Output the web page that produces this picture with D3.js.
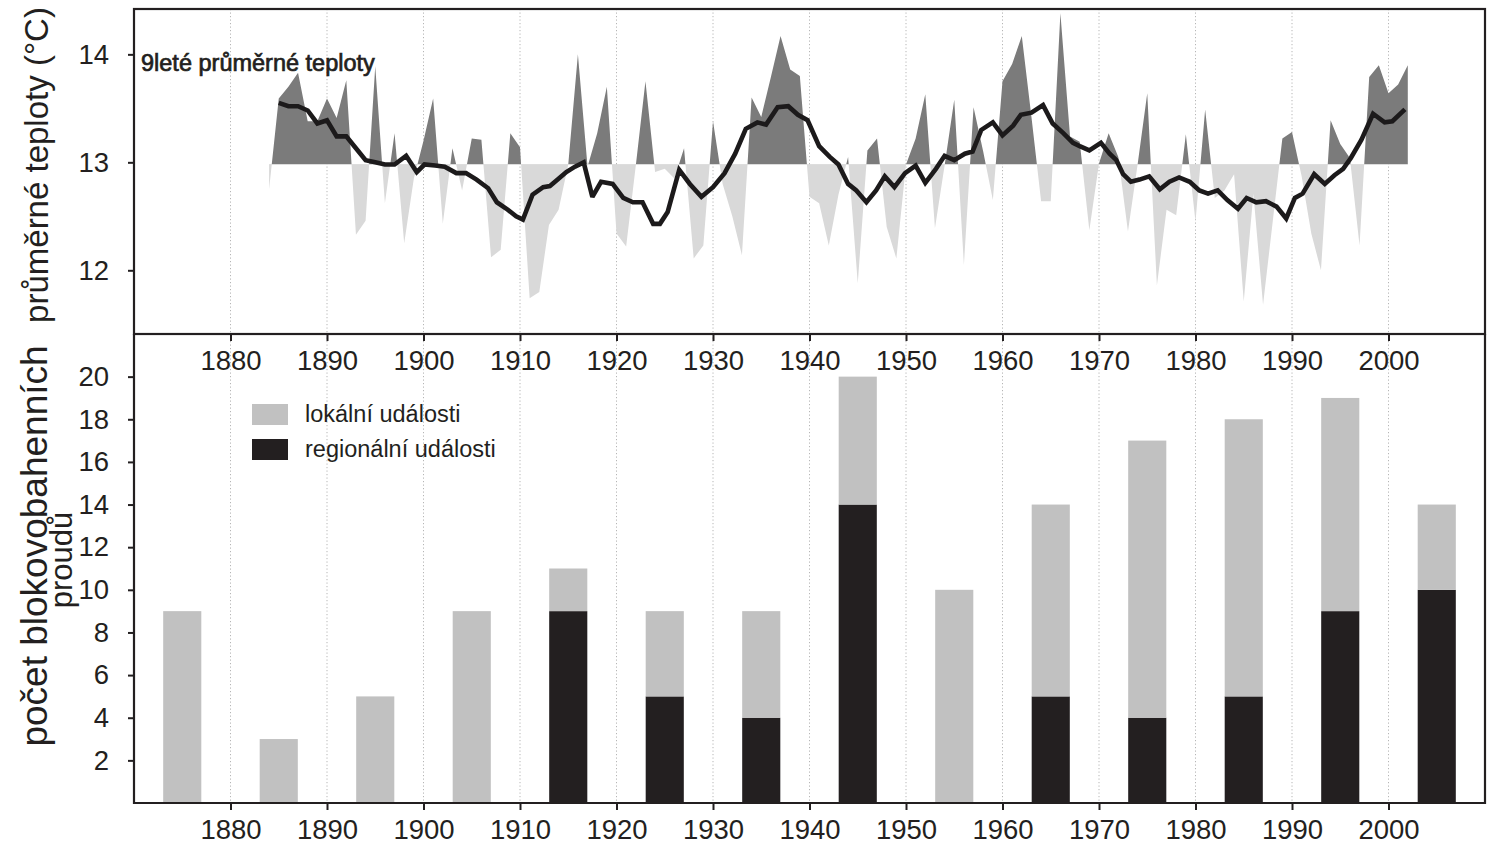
<!DOCTYPE html>
<html><head><meta charset="utf-8">
<script src="https://cdn.jsdelivr.net/npm/d3@7"></script>
<style>
body{margin:0;background:#fff}
svg text{font-family:"Liberation Sans",Arial,Helvetica,sans-serif;fill:#231f20}
</style>
</head><body>
<svg id="chart" width="1488" height="848"></svg>
<script>
// ---------------- data ----------------
const tempYears = d3.range(1884, 2003);
const tempValues = [
  12.75, 13.59, 13.70, 13.83, 13.38, 13.38, 13.59, 13.41, 13.76, 12.33,
  12.46, 13.89, 12.62, 13.27, 12.25, 12.85, 13.20, 13.59, 12.43, 13.13,
  12.74, 13.22, 13.21, 12.12, 12.19, 13.27, 13.14, 11.74, 11.80, 12.42,
  12.56, 12.98, 14.00, 12.96, 13.27, 13.70, 12.34, 12.22, 12.97, 13.75,
  12.91, 12.94, 12.85, 13.13, 12.11, 12.23, 13.38, 12.80, 12.50, 12.14,
  13.60, 13.42, 13.79, 14.17, 13.86, 13.80, 12.68, 12.62, 12.23, 12.70,
  13.05, 11.88, 13.11, 13.22, 12.40, 12.11, 12.98, 13.22, 13.63, 12.39,
  12.97, 13.58, 12.05, 13.51, 13.10, 12.65, 13.75, 13.91, 14.17, 13.42,
  12.64, 12.64, 14.38, 13.24, 13.19, 12.37, 12.99, 13.27, 13.05, 12.36,
  12.98, 13.64, 11.86, 12.56, 12.51, 13.26, 12.45, 13.49, 12.67, 12.74,
  12.89, 11.71, 12.71, 11.68, 12.45, 13.22, 13.28, 12.87, 12.34, 12.00,
  13.39, 13.17, 13.04, 12.23, 13.79, 13.90, 13.64, 13.72, 13.90
];
const baseTemp = 12.98;

const meanYears = [
  1885, 1886, 1887, 1888, 1889, 1890, 1891, 1892, 1893, 1894,
  1895, 1896, 1897, 1898.2, 1899.3, 1900.1, 1901.2, 1902.2, 1903.4, 1904.4,
  1905.5, 1906.7, 1907.6, 1908.6, 1909.6, 1910.3, 1911.3, 1912.4, 1913.1, 1913.9,
  1914.8, 1915.7, 1916.6, 1917.5, 1918.4, 1919.6, 1920.7, 1921.7, 1922.7, 1923.8,
  1924.5, 1925.3, 1926.5, 1927.6, 1928.8, 1930.0, 1931.2, 1932.3, 1933.4, 1934.6,
  1935.5, 1936.7, 1937.8, 1938.8, 1939.8, 1941.0, 1942.1, 1943.0, 1944.0, 1944.85,
  1945.9, 1946.9, 1947.8, 1948.8, 1949.9, 1951.0, 1952.0, 1953.1, 1954.0, 1955.0,
  1956.1, 1956.9, 1957.8, 1959.0, 1960.0, 1961.1, 1961.9, 1963.0, 1964.2, 1965.2,
  1966.3, 1967.3, 1968.0, 1969.0, 1970.2, 1971.1, 1971.8, 1972.5, 1973.3, 1974.2,
  1975.2, 1976.3, 1977.3, 1978.3, 1979.4, 1980.4, 1981.3, 1982.3, 1983.3, 1984.4,
  1985.3, 1986.3, 1987.3, 1988.4, 1989.4, 1990.3, 1991.1, 1992.3, 1993.4, 1994.4,
  1995.3, 1996.1, 1997.2, 1998.4, 1999.6, 2000.4, 2001.7
];
const meanValues = [
  13.55, 13.52, 13.52, 13.48, 13.36, 13.39, 13.24, 13.24, 13.13, 13.02,
  13.00, 12.98, 12.98, 13.06, 12.91, 12.98, 12.97, 12.96, 12.90, 12.90,
  12.84, 12.76, 12.63, 12.57, 12.50, 12.47, 12.70, 12.77, 12.78, 12.84,
  12.91, 12.96, 13.00, 12.68, 12.82, 12.80, 12.67, 12.63, 12.63, 12.43,
  12.43, 12.54, 12.93, 12.80, 12.68, 12.77, 12.90, 13.08, 13.31, 13.37,
  13.35, 13.51, 13.52, 13.44, 13.39, 13.15, 13.05, 12.98, 12.80, 12.74,
  12.63, 12.74, 12.87, 12.77, 12.90, 12.97, 12.81, 12.94, 13.06, 13.02,
  13.08, 13.10, 13.30, 13.37, 13.25, 13.34, 13.44, 13.46, 13.53, 13.36,
  13.27, 13.18, 13.15, 13.11, 13.18, 13.08, 13.02, 12.89, 12.82, 12.84,
  12.87, 12.75, 12.82, 12.86, 12.82, 12.74, 12.71, 12.74, 12.65, 12.57,
  12.67, 12.63, 12.64, 12.59, 12.48, 12.67, 12.71, 12.89, 12.80, 12.88,
  12.94, 13.04, 13.21, 13.45, 13.37, 13.38, 13.49
];

const barYears = [1875, 1885, 1895, 1905, 1915, 1925, 1935, 1945, 1955, 1965, 1975, 1985, 1995, 2005];
const regionalCounts = [0, 0, 0, 0, 9, 5, 4, 14, 0, 5, 4, 5, 9, 10];
const localCounts    = [9, 3, 5, 9, 2, 4, 5, 6, 10, 9, 13, 13, 10, 4];

const yearTicks = d3.range(1880, 2001, 10);
const tempTicks = [12, 13, 14];
const countTicks = [2, 4, 6, 8, 10, 12, 14, 16, 18, 20];

const seriesNames = ["lokální události", "regionální události"];
const tempLabel = "9leté průměrné teploty";

// ---------------- layout ----------------
const svg = d3.select("#chart");
const L = 134, R = 1485, T = 9, MID = 334, B = 803;
const ink = "#231f20";

const x = d3.scaleLinear().domain([1870, 2010]).range([L, R]);
const yT = d3.scaleLinear().domain([11.41, 14.42]).range([MID, T]);
const yC = d3.scaleLinear().domain([0, 22]).range([B, MID]);

// grid lines
function grid(y0, y1) {
  svg.append("g").selectAll("line").data(yearTicks).join("line")
    .attr("x1", d => x(d)).attr("x2", d => x(d))
    .attr("y1", y0).attr("y2", y1)
    .attr("stroke", "#b5b5b5").attr("stroke-width", 1)
    .attr("stroke-dasharray", "1.2,2.3");
}
grid(T, MID);
grid(MID, B);

// ---------------- top panel ----------------
const tData = tempYears.map((yr, i) => ({yr, v: tempValues[i]}));
const yBase = yT(baseTemp);
const defs = svg.append("defs");
defs.append("clipPath").attr("id", "above").append("rect")
  .attr("x", L).attr("y", T).attr("width", R - L).attr("height", yBase - T);
defs.append("clipPath").attr("id", "below").append("rect")
  .attr("x", L).attr("y", yBase).attr("width", R - L).attr("height", MID - yBase);

const area = d3.area().x(d => x(d.yr)).y0(yBase).y1(d => yT(d.v));
svg.append("path").datum(tData).attr("d", area)
  .attr("fill", "#7b7b7b").attr("clip-path", "url(#above)");
svg.append("path").datum(tData).attr("d", area)
  .attr("fill", "#d9d9d9").attr("clip-path", "url(#below)");

const mData = meanYears.map((yr, i) => ({yr, v: meanValues[i]}));
svg.append("path").datum(mData)
  .attr("d", d3.line().x(d => x(d.yr)).y(d => yT(d.v)))
  .attr("fill", "none").attr("stroke", "#1c1a1b").attr("stroke-width", 4.6)
  .attr("stroke-linejoin", "miter").attr("stroke-miterlimit", 2.5);

svg.append("text").attr("x", 141).attr("y", 71)
  .attr("font-size", 23.5).attr("stroke", ink).attr("stroke-width", 0.7)
  .text(tempLabel);

// ---------------- bottom panel ----------------
const bw = 3.95;
const barG = svg.append("g");
barG.selectAll(".reg").data(barYears).join("rect")
  .attr("x", (d) => x(d - bw / 2)).attr("width", x(bw) - x(0))
  .attr("y", (d, i) => yC(regionalCounts[i]))
  .attr("height", (d, i) => yC(0) - yC(regionalCounts[i]))
  .attr("fill", ink);
barG.selectAll(".loc").data(barYears).join("rect")
  .attr("x", (d) => x(d - bw / 2)).attr("width", x(bw) - x(0))
  .attr("y", (d, i) => yC(regionalCounts[i] + localCounts[i]))
  .attr("height", (d, i) => yC(regionalCounts[i]) - yC(regionalCounts[i] + localCounts[i]))
  .attr("fill", "#c1c1c1");

// legend
const legend = svg.append("g");
const legColors = ["#c1c1c1", ink];
seriesNames.forEach((name, i) => {
  legend.append("rect").attr("x", 252).attr("y", 404 + i * 35)
    .attr("width", 36).attr("height", 21).attr("fill", legColors[i]);
  legend.append("text").attr("x", 305).attr("y", 422 + i * 35)
    .attr("font-size", 23.5).text(name);
});

// ---------------- axes ----------------
function styleAxis(g) {
  g.select(".domain").remove();
  g.selectAll(".tick line").attr("stroke", ink).attr("stroke-width", 2);
  g.selectAll(".tick text").attr("font-size", 27.5).attr("fill", ink)
    .style("font-family", '"Liberation Sans",Arial,sans-serif');
}
const xAxis = d3.axisBottom(x).tickValues(yearTicks).tickFormat(d3.format("d"))
  .tickSize(7).tickPadding(9);
svg.append("g").attr("transform", `translate(0,${MID})`).call(xAxis).call(styleAxis);
svg.append("g").attr("transform", `translate(0,${B})`).call(xAxis).call(styleAxis);

const yTAxis = d3.axisLeft(yT).tickValues(tempTicks).tickFormat(d3.format("d"))
  .tickSize(6).tickPadding(19);
svg.append("g").attr("transform", `translate(${L},0)`).call(yTAxis).call(styleAxis)
  .selectAll(".tick text").attr("fill", d => d === 12 ? "#c4c4c4" : ink);

const yCAxis = d3.axisLeft(yC).tickValues(countTicks).tickFormat(d3.format("d"))
  .tickSize(6).tickPadding(19);
svg.append("g").attr("transform", `translate(${L},0)`).call(yCAxis).call(styleAxis);

// frames
const frame = svg.append("g").attr("fill", "none").attr("stroke", ink).attr("stroke-width", 2.2);
frame.append("rect").attr("x", L).attr("y", T).attr("width", R - L).attr("height", MID - T);
frame.append("polyline").attr("points", `${L},${MID} ${L},${B} ${R},${B} ${R},${MID}`);

// axis titles
svg.append("text").attr("transform", "translate(48,165) rotate(-90)")
  .attr("text-anchor", "middle").attr("font-size", 33).text("průměrné teploty (°C)");
svg.append("text").attr("transform", "translate(47,546) rotate(-90)")
  .attr("text-anchor", "middle").attr("font-size", 37).text("počet blokovobahenních");
svg.append("text").attr("transform", "translate(72,560) rotate(-90)")
  .attr("text-anchor", "middle").attr("font-size", 31).text("proudů");
</script>
</body></html>
